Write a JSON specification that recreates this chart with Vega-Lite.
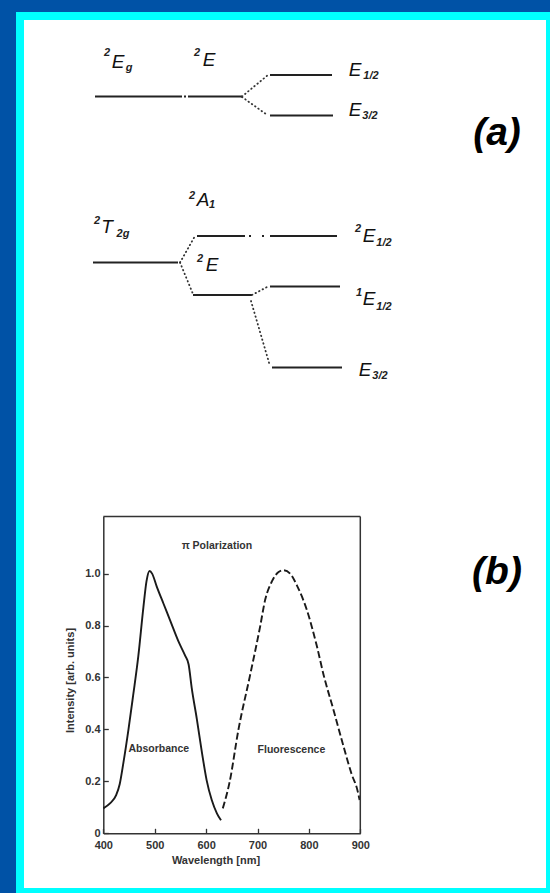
{
  "$schema": "https://vega.github.io/schema/vega-lite/v6.json",
  "width": 530,
  "height": 876,
  "autosize": "none",
  "padding": {"left": 20, "top": 16, "right": 0, "bottom": 1},
  "background": "#0052a6",
  "config": {
    "view": {"fill": "white", "stroke": "#00ffff", "strokeWidth": 8},
    "font": "Liberation Sans"
  },
  "datasets": {
    "levels": [
      {"u1": 15.0, "u2": 32.4, "e": 159.1},
      {"u1": 32.8, "u2": 33.2, "e": 159.1},
      {"u1": 33.6, "u2": 44.4, "e": 159.1},
      {"u1": 50.0, "u2": 62.4, "e": 163.4},
      {"u1": 50.0, "u2": 62.6, "e": 155.3},
      {"u1": 14.6, "u2": 31.6, "e": 125.9},
      {"u1": 35.4, "u2": 45.0, "e": 131.2},
      {"u1": 45.8, "u2": 46.2, "e": 131.2},
      {"u1": 48.4, "u2": 48.8, "e": 131.2},
      {"u1": 50.0, "u2": 63.4, "e": 131.2},
      {"u1": 34.6, "u2": 46.4, "e": 119.4},
      {"u1": 50.0, "u2": 64.0, "e": 121.1},
      {"u1": 50.4, "u2": 64.4, "e": 104.9}
    ],
    "links": [
      {"u1": 44.4, "e1": 159.1, "u2": 49.6, "e2": 163.4},
      {"u1": 44.4, "e1": 159.0, "u2": 49.6, "e2": 155.3},
      {"u1": 32.0, "e1": 125.9, "u2": 35.0, "e2": 131.2},
      {"u1": 32.0, "e1": 125.9, "u2": 34.6, "e2": 119.6},
      {"u1": 46.4, "e1": 119.4, "u2": 49.6, "e2": 121.1},
      {"u1": 46.2, "e1": 118.2, "u2": 50.0, "e2": 105.2}
    ],
    "symbols": [
      {"u": 19.6, "e": 166.0, "t": "E"},
      {"u": 37.8, "e": 166.4, "t": "E"},
      {"u": 67.0, "e": 164.4, "t": "E"},
      {"u": 67.0, "e": 156.4, "t": "E"},
      {"u": 36.6, "e": 138.4, "t": "A"},
      {"u": 17.4, "e": 133.0, "t": "T"},
      {"u": 38.4, "e": 125.4, "t": "E"},
      {"u": 69.8, "e": 131.2, "t": "E"},
      {"u": 69.8, "e": 118.6, "t": "E"},
      {"u": 69.0, "e": 104.4, "t": "E"}
    ],
    "indices": [
      {"u": 17.4, "e": 167.8, "t": "2"},
      {"u": 21.8, "e": 164.8, "t": "g"},
      {"u": 35.4, "e": 167.8, "t": "2"},
      {"u": 70.2, "e": 163.2, "t": "1/2"},
      {"u": 70.0, "e": 155.2, "t": "3/2"},
      {"u": 34.4, "e": 139.2, "t": "2"},
      {"u": 38.4, "e": 137.4, "t": "1"},
      {"u": 15.4, "e": 134.2, "t": "2"},
      {"u": 20.6, "e": 131.6, "t": "2g"},
      {"u": 36.0, "e": 126.6, "t": "2"},
      {"u": 67.6, "e": 132.6, "t": "2"},
      {"u": 72.8, "e": 129.8, "t": "1/2"},
      {"u": 67.8, "e": 119.8, "t": "1"},
      {"u": 72.8, "e": 117.0, "t": "1/2"},
      {"u": 72.0, "e": 103.2, "t": "3/2"}
    ],
    "panels": [
      {"u": 95.4, "e": 151.8, "t": "(a)"},
      {"u": 95.4, "e": 64.0, "t": "(b)"}
    ],
    "absorbance": [
      {"wl": 400, "i": 0.096}, {"wl": 413, "i": 0.115}, {"wl": 425, "i": 0.147},
      {"wl": 432, "i": 0.19}, {"wl": 439, "i": 0.27}, {"wl": 449, "i": 0.40},
      {"wl": 458, "i": 0.53}, {"wl": 468, "i": 0.68}, {"wl": 478, "i": 0.87},
      {"wl": 484, "i": 0.97}, {"wl": 490, "i": 1.01}, {"wl": 495, "i": 1.0},
      {"wl": 504, "i": 0.95}, {"wl": 517, "i": 0.885}, {"wl": 530, "i": 0.82},
      {"wl": 546, "i": 0.74}, {"wl": 559, "i": 0.685}, {"wl": 566, "i": 0.65},
      {"wl": 572, "i": 0.56}, {"wl": 582, "i": 0.44}, {"wl": 592, "i": 0.31},
      {"wl": 601, "i": 0.205}, {"wl": 611, "i": 0.128}, {"wl": 621, "i": 0.077},
      {"wl": 629, "i": 0.05}
    ],
    "fluorescence": [
      {"wl": 632.5, "i": 0.096}, {"wl": 645.5, "i": 0.195}, {"wl": 663, "i": 0.40},
      {"wl": 685.7, "i": 0.61}, {"wl": 705, "i": 0.795}, {"wl": 715, "i": 0.90},
      {"wl": 728, "i": 0.97}, {"wl": 741, "i": 1.006}, {"wl": 750.7, "i": 1.013},
      {"wl": 763.6, "i": 1.0}, {"wl": 776.6, "i": 0.955}, {"wl": 796, "i": 0.86},
      {"wl": 815.6, "i": 0.72}, {"wl": 828.6, "i": 0.61}, {"wl": 848, "i": 0.474},
      {"wl": 867.6, "i": 0.333}, {"wl": 883.8, "i": 0.224}, {"wl": 893.5, "i": 0.173},
      {"wl": 898.7, "i": 0.128}
    ],
    "notes": [
      {"wl": 621, "i": 1.105, "t": "π Polarization"},
      {"wl": 508, "i": 0.325, "t": "Absorbance"},
      {"wl": 766, "i": 0.32, "t": "Fluorescence"}
    ]
  },
  "layer": [
    {
      "layer": [
        {
          "data": {"name": "levels"},
          "mark": {"type": "rule", "stroke": "#222222", "strokeWidth": 1.8},
          "encoding": {
            "x": {"field": "u1", "type": "quantitative", "scale": {"domain": [0, 106], "nice": false, "zero": false}, "axis": null},
            "x2": {"field": "u2"},
            "y": {"field": "e", "type": "quantitative", "scale": {"domain": [0, 175.2], "nice": false, "zero": false}, "axis": null}
          }
        },
        {
          "data": {"name": "links"},
          "mark": {"type": "rule", "stroke": "#333333", "strokeWidth": 1.8, "strokeDash": [0.5, 3.5], "strokeCap": "round"},
          "encoding": {
            "x": {"field": "u1", "type": "quantitative", "scale": {"domain": [0, 106], "nice": false, "zero": false}, "axis": null},
            "x2": {"field": "u2"},
            "y": {"field": "e1", "type": "quantitative", "scale": {"domain": [0, 175.2], "nice": false, "zero": false}, "axis": null},
            "y2": {"field": "e2"}
          }
        },
        {
          "data": {"name": "symbols"},
          "mark": {"type": "text", "font": "Liberation Sans", "fontSize": 19, "fontStyle": "italic", "color": "#111111", "align": "center", "baseline": "middle"},
          "encoding": {
            "x": {"field": "u", "type": "quantitative", "scale": {"domain": [0, 106], "nice": false, "zero": false}, "axis": null},
            "y": {"field": "e", "type": "quantitative", "scale": {"domain": [0, 175.2], "nice": false, "zero": false}, "axis": null},
            "text": {"field": "t"}
          }
        },
        {
          "data": {"name": "indices"},
          "mark": {"type": "text", "font": "Liberation Sans", "fontSize": 11, "fontStyle": "italic", "fontWeight": "bold", "color": "#222222", "align": "center", "baseline": "middle"},
          "encoding": {
            "x": {"field": "u", "type": "quantitative", "scale": {"domain": [0, 106], "nice": false, "zero": false}, "axis": null},
            "y": {"field": "e", "type": "quantitative", "scale": {"domain": [0, 175.2], "nice": false, "zero": false}, "axis": null},
            "text": {"field": "t"}
          }
        },
        {
          "data": {"name": "panels"},
          "mark": {"type": "text", "font": "Liberation Sans", "fontSize": 39, "fontStyle": "italic", "fontWeight": "bold", "color": "#000000", "align": "center", "baseline": "middle"},
          "encoding": {
            "x": {"field": "u", "type": "quantitative", "scale": {"domain": [0, 106], "nice": false, "zero": false}, "axis": null},
            "y": {"field": "e", "type": "quantitative", "scale": {"domain": [0, 175.2], "nice": false, "zero": false}, "axis": null},
            "text": {"field": "t"}
          }
        }
      ]
    },
    {
      "layer": [
        {
          "data": {"name": "absorbance"},
          "mark": {"type": "line", "stroke": "#1a1a1a", "strokeWidth": 1.9, "interpolate": "monotone"},
          "encoding": {
            "x": {
              "field": "wl", "type": "quantitative",
              "scale": {"domain": [400, 900], "range": [83.3, 340.3], "nice": false, "zero": false},
              "axis": {
                "orient": "bottom", "offset": -58.7, "values": [400, 500, 600, 700, 800, 900],
                "tickSize": -5, "tickColor": "#333333", "tickWidth": 1.3,
                "domainColor": "#333333", "domainWidth": 1.5,
                "labelFlush": false, "labelOverlap": false, "labelPadding": 11.5,
                "labelFont": "Liberation Sans", "labelFontSize": 11, "labelFontWeight": "bold", "labelColor": "#333333",
                "grid": false,
                "title": "Wavelength [nm]", "titleFont": "Liberation Sans", "titleFontSize": 11, "titleFontWeight": "bold", "titleColor": "#333333", "titlePadding": 4, "titleX": 195.5
              }
            },
            "y": {
              "field": "i", "type": "quantitative",
              "scale": {"domain": [0, 1.22], "range": [817.3, 500.5], "nice": false, "zero": false},
              "axis": {
                "orient": "left", "offset": -83.3, "values": [0, 0.2, 0.4, 0.6, 0.8, 1.0],
                "labelExpr": "datum.value == 0 ? '0' : format(datum.value, '.1f')",
                "tickSize": -5, "tickColor": "#333333", "tickWidth": 1.3,
                "domainColor": "#333333", "domainWidth": 1.5,
                "labelFlush": false, "labelOverlap": false, "labelPadding": 8.3,
                "labelFont": "Liberation Sans", "labelFontSize": 11, "labelFontWeight": "bold", "labelColor": "#333333",
                "grid": false,
                "title": "Intensity [arb. units]", "titleFont": "Liberation Sans", "titleFontSize": 11, "titleFontWeight": "bold", "titleColor": "#333333", "titlePadding": 9, "titleY": 664
              }
            }
          }
        },
        {
          "data": {"name": "fluorescence"},
          "mark": {"type": "line", "stroke": "#1a1a1a", "strokeWidth": 1.9, "strokeDash": [7, 3], "interpolate": "monotone"},
          "encoding": {
            "x": {"field": "wl", "type": "quantitative", "scale": {"domain": [400, 900], "range": [83.3, 340.3], "nice": false, "zero": false}},
            "y": {"field": "i", "type": "quantitative", "scale": {"domain": [0, 1.22], "range": [817.3, 500.5], "nice": false, "zero": false}}
          }
        },
        {
          "data": {"values": [{}]},
          "mark": {"type": "rule", "stroke": "#333333", "strokeWidth": 1.5},
          "encoding": {
            "x": {"datum": 900, "type": "quantitative", "scale": {"domain": [400, 900], "range": [83.3, 340.3], "nice": false, "zero": false}},
            "y": {"datum": 0, "type": "quantitative", "scale": {"domain": [0, 1.22], "range": [817.3, 500.5], "nice": false, "zero": false}},
            "y2": {"datum": 1.22}
          }
        },
        {
          "data": {"values": [{}]},
          "mark": {"type": "rule", "stroke": "#333333", "strokeWidth": 1.5},
          "encoding": {
            "x": {"datum": 400, "type": "quantitative", "scale": {"domain": [400, 900], "range": [83.3, 340.3], "nice": false, "zero": false}},
            "x2": {"datum": 900},
            "y": {"datum": 1.22, "type": "quantitative", "scale": {"domain": [0, 1.22], "range": [817.3, 500.5], "nice": false, "zero": false}}
          }
        },
        {
          "data": {"name": "notes"},
          "mark": {"type": "text", "font": "Liberation Sans", "fontSize": 10.5, "fontWeight": "bold", "color": "#333333", "align": "center", "baseline": "middle"},
          "encoding": {
            "x": {"field": "wl", "type": "quantitative", "scale": {"domain": [400, 900], "range": [83.3, 340.3], "nice": false, "zero": false}},
            "y": {"field": "i", "type": "quantitative", "scale": {"domain": [0, 1.22], "range": [817.3, 500.5], "nice": false, "zero": false}},
            "text": {"field": "t"}
          }
        }
      ]
    }
  ],
  "resolve": {
    "scale": {"x": "independent", "y": "independent"},
    "axis": {"x": "independent", "y": "independent"}
  }
}
